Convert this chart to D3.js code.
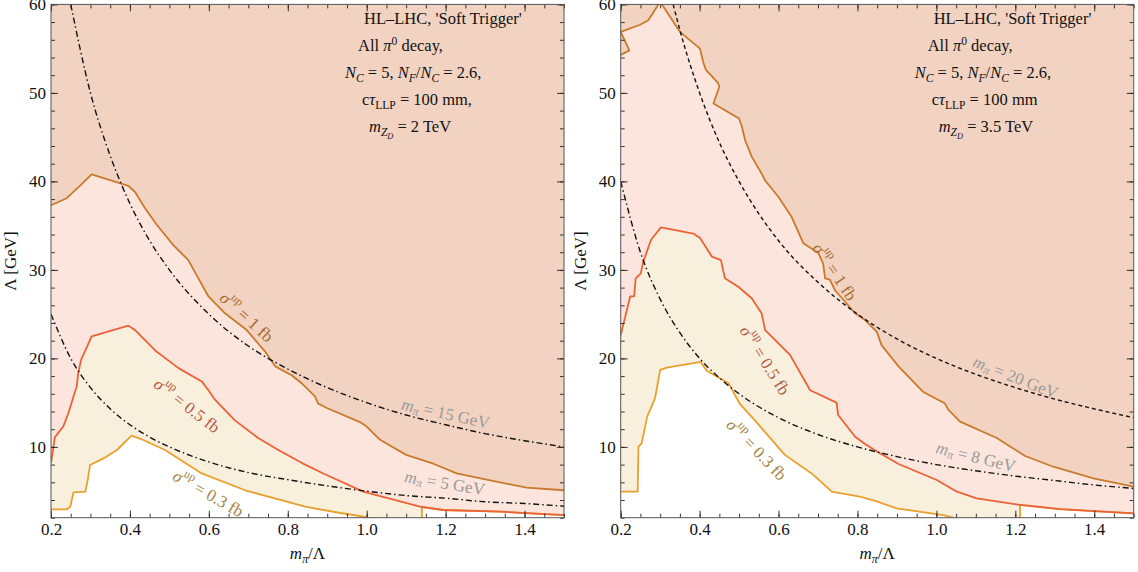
<!DOCTYPE html>
<html>
<head>
<meta charset="utf-8">
<script src="https://cdnjs.cloudflare.com/ajax/libs/d3/7.8.5/d3.min.js"></script>
<style>
body{margin:0;background:#fff;}
svg{display:block;font-family:"Liberation Serif","Times New Roman",serif;}
</style>
</head>
<body>
<svg id="chart" width="1138" height="572"></svg>
<script>
// ---- data ----
const xMajor = [0.2, 0.4, 0.6, 0.8, 1.0, 1.2, 1.4];
const yMajor = [10, 20, 30, 40, 50, 60];

// left panel, m_ZD = 2 TeV : contours [m_pi/Lambda, Lambda]
const sig1L = [[0.2,37.3],[0.24,38.1],[0.273,39.5],[0.303,40.8],[0.396,39.5],[0.413,38.8],[0.438,37.0],[0.468,35.1],[0.51,32.8],[0.548,31.1],[0.599,27.0],[0.641,25.1],[0.696,23.2],[0.742,20.8],[0.768,19.1],[0.81,18.1],[0.835,17.2],[0.869,15.7],[0.877,14.9],[0.899,14.4],[0.983,12.8],[1.0,12.3],[1.034,10.8],[1.10,9.1],[1.169,8.1],[1.228,7.0],[1.304,6.3],[1.405,5.4],[1.5,5.1]];
const sig05L = [[0.2,8.2],[0.21,11.1],[0.231,12.3],[0.244,13.8],[0.257,15.7],[0.265,16.8],[0.269,18.3],[0.276,19.8],[0.303,22.5],[0.396,23.7],[0.413,23.2],[0.464,20.9],[0.523,18.9],[0.582,17.4],[0.599,16.4],[0.616,15.3],[0.666,13.0],[0.725,11.0],[0.776,9.65],[0.835,8.2],[0.89,7.0],[0.991,4.94],[1.135,3.25],[1.194,2.87],[1.338,2.68],[1.5,2.3]];
const sig03L = [[0.2,2.95],[0.24,2.95],[0.249,3.24],[0.257,4.87],[0.287,4.94],[0.293,6.26],[0.299,7.95],[0.333,8.7],[0.367,9.65],[0.404,11.27],[0.43,10.86],[0.489,9.65],[0.582,7.0],[0.692,5.1],[0.844,3.24],[0.93,2.56],[1.0,2.05],[1.02,1.8],[1.14,1.8],[1.14,3.2],[1.194,2.87],[1.338,2.68],[1.5,2.3]];
const iso15L = [[0.25,60],[0.3,50],[0.35,42.9],[0.4,37.5],[0.45,33.3],[0.5,30],[0.6,25],[0.7,21.4],[0.8,18.8],[0.9,16.7],[1.0,15],[1.1,13.6],[1.2,12.5],[1.3,11.5],[1.4,10.7],[1.5,10]];
const iso5L = [[0.2,25],[0.25,20],[0.3,16.7],[0.35,14.3],[0.4,12.5],[0.45,11.1],[0.5,10],[0.6,8.3],[0.7,7.1],[0.8,6.3],[0.9,5.6],[1.0,5],[1.1,4.5],[1.2,4.2],[1.3,3.8],[1.4,3.6],[1.5,3.3]];

// right panel, m_ZD = 3.5 TeV
const sig1R = [[0.2,54.3],[0.222,54.8],[0.2,56.9],[0.249,57.7],[0.27,58.2],[0.30,60.3],[0.35,56.9],[0.401,55.0],[0.409,53.5],[0.416,52.6],[0.447,51.1],[0.45,50.7],[0.435,48.8],[0.50,47.1],[0.507,46.2],[0.515,44.7],[0.532,42.8],[0.557,40.9],[0.566,40.1],[0.599,38.3],[0.633,36.0],[0.663,33.0],[0.701,31.9],[0.713,30.7],[0.718,29.05],[0.73,28.9],[0.743,27.7],[0.794,25.1],[0.82,24.3],[0.849,23.0],[0.861,21.5],[0.904,19.1],[0.967,16.2],[1.022,14.9],[1.03,14.2],[1.06,12.85],[1.153,11.0],[1.225,8.97],[1.296,7.76],[1.398,6.45],[1.5,5.5]];
const sig05R = [[0.2,22.6],[0.224,27.0],[0.234,27.0],[0.238,29.05],[0.251,29.6],[0.257,30.9],[0.277,33.4],[0.302,34.8],[0.384,34.1],[0.401,33.6],[0.431,31.5],[0.454,31.1],[0.464,29.05],[0.498,28.1],[0.532,26.8],[0.557,25.1],[0.566,23.2],[0.629,20.4],[0.68,16.4],[0.747,15.0],[0.751,13.6],[0.794,11.15],[0.82,10.3],[0.857,9.28],[0.904,8.07],[1.001,6.26],[1.052,4.94],[1.102,4.19],[1.212,3.44],[1.313,2.98],[1.5,2.5]];
const sig03R = [[0.2,4.94],[0.243,4.94],[0.245,10.0],[0.253,10.4],[0.267,13.4],[0.287,15.5],[0.30,18.7],[0.317,18.95],[0.403,19.6],[0.418,18.6],[0.473,17.2],[0.502,14.85],[0.54,13.0],[0.616,9.1],[0.684,7.0],[0.735,4.94],[0.806,4.37],[0.845,3.9],[0.899,3.06],[1.018,2.3],[1.06,1.8],[1.212,1.8],[1.212,3.44],[1.313,2.98],[1.5,2.5]];
const iso20R = [[0.333,60],[0.35,57.1],[0.4,50],[0.45,44.4],[0.5,40],[0.6,33.3],[0.7,28.6],[0.8,25],[0.9,22.2],[1.0,20],[1.1,18.2],[1.2,16.7],[1.3,15.4],[1.4,14.3],[1.5,13.3]];
const iso8R = [[0.2,40],[0.25,32],[0.3,26.7],[0.35,22.9],[0.4,20],[0.45,17.8],[0.5,16],[0.6,13.3],[0.7,11.4],[0.8,10],[0.9,8.9],[1.0,8],[1.1,7.3],[1.2,6.7],[1.3,6.2],[1.4,5.7],[1.5,5.3]];

const textL = ["HL\u2013LHC, 'Soft Trigger'", "All \u03c0^0 decay,", "N_C = 5, N_F/N_C = 2.6,", "c\u03c4_LLP = 100 mm,", "m_ZD = 2 TeV"];
const textR = ["HL\u2013LHC, 'Soft Trigger'", "All \u03c0^0 decay,", "N_C = 5, N_F/N_C = 2.6,", "c\u03c4_LLP = 100 mm", "m_ZD = 3.5 TeV"];

// ---- styles ----
const cDark = "#f2d3c2", cPink = "#fbe5dd", cYel = "#f9efdd";
const c1 = "#c97a2c", c05 = "#ec6238", c03 = "#e8a12e";
const l1 = "#a8692e", l05 = "#b35a45", l03 = "#a5843f", lIso = "#9a9a9a";

const svg = d3.select("#chart");
const yTop = 4.4, yBot = 517.7;

// rich text: parts = [text, italic?, shift('sub','sub2','sup'), size factor]
function rich(sel, parts, fs) {
  let cur = 0;
  parts.forEach(p => {
    const shift = p[2] === "sub" ? fs * 0.25 : p[2] === "sub2" ? fs * 0.42 : p[2] === "sup" ? -fs * 0.38 : 0;
    sel.append("tspan")
      .attr("dy", shift - cur)
      .attr("font-style", p[1] ? "italic" : "normal")
      .attr("font-size", fs * (p[3] || 1))
      .text(p[0]);
    cur = shift;
  });
}

const sigParts = v => [["\u03c3", 1], ["up", 0, "sup", 0.7], [" = " + v + " fb", 0]];
const mParts = v => [["m", 1], ["\u03c0", 1, "sub", 0.7], [" = " + v + " GeV", 0]];

function annoParts(i, s) {
  if (i === 0) return [[s, 0]];
  if (i === 1) return [["All ", 0], ["\u03c0", 1], ["0", 0, "sup", 0.7], [" decay,", 0]];
  if (i === 2) return [["N", 1], ["C", 1, "sub", 0.7], [" = 5, ", 0], ["N", 1], ["F", 1, "sub", 0.7], ["/", 0], ["N", 1], ["C", 1, "sub", 0.7], [" = 2.6,", 0]];
  if (i === 3) return [["c", 0], ["\u03c4", 1], ["LLP", 0, "sub", 0.7], [" =" + s.split("=")[1], 0]];
  return [["m", 1], ["Z", 1, "sub", 0.7], ["D", 1, "sub2", 0.5], [" =" + s.split("=")[1], 0]];
}

function panel(id, x0, x1, d) {
  const x = d3.scaleLinear().domain([0.2, 1.5]).range([x0, x1]);
  const y = d3.scaleLinear().domain([2, 60]).range([yBot, yTop]);
  const g = svg.append("g");
  g.append("clipPath").attr("id", "clip" + id).append("rect")
    .attr("x", x0).attr("y", yTop).attr("width", x1 - x0).attr("height", yBot - yTop);
  const pg = g.append("g").attr("clip-path", "url(#clip" + id + ")");
  const line = d3.line().x(p => x(p[0])).y(p => y(p[1]));
  const smooth = d3.line().x(p => x(p[0])).y(p => y(p[1])).curve(d3.curveMonotoneX);
  const corners = [[1.5, 1.5], [0.2, 1.5]];

  pg.append("rect").attr("x", x0).attr("y", yTop).attr("width", x1 - x0).attr("height", yBot - yTop).attr("fill", cDark);
  [[d.s1, cPink], [d.s05, cYel], [d.s03, "#fff"]].forEach(([pts, col]) => {
    pg.append("path").attr("d", line(pts.concat(corners)) + "Z").attr("fill", col);
  });
  [[d.s03, c03], [d.s05, c05], [d.s1, c1]].forEach(([pts, col]) => {
    pg.append("path").attr("d", line(pts)).attr("fill", "none").attr("stroke", col)
      .attr("stroke-width", 1.8).attr("stroke-linejoin", "round");
  });
  d.iso.forEach(it => {
    pg.append("path").attr("d", smooth(it.pts)).attr("fill", "none").attr("stroke", "#111")
      .attr("stroke-width", 1.4).attr("stroke-dasharray", it.dash);
  });

  // curve labels
  d.labels.forEach(lb => {
    const t = pg.append("text")
      .attr("transform", `translate(${x(lb.at[0])},${y(lb.at[1])}) rotate(${lb.rot})`)
      .attr("text-anchor", "middle").attr("dominant-baseline", "central")
      .attr("fill", lb.col);
    rich(t, lb.parts, 17);
  });

  // annotation block
  d.text.forEach((s, i) => {
    const t = g.append("text").attr("x", x0 + d.textX[i]).attr("y", 24 + i * 27).attr("fill", "#111");
    rich(t, annoParts(i, s), 16.5);
  });

  // ticks
  const axes = g.append("g");
  const minorX = d3.range(0.2, 1.5001, 0.05), minorY = d3.range(2, 60.001, 2);
  const mk = (axis, tr) => axes.append("g").attr("transform", tr).call(axis)
    .call(s => s.select(".domain").remove())
    .call(s => s.selectAll("line").attr("stroke", "#222").attr("stroke-width", 0.9))
    .call(s => s.selectAll("text").attr("fill", "#111").attr("font-family", "Liberation Serif").attr("font-size", 17));
  mk(d3.axisBottom(x).tickValues(xMajor).tickSize(-7).tickPadding(5).tickFormat(d3.format(".1f")), `translate(0,${yBot})`);
  mk(d3.axisBottom(x).tickValues(minorX).tickSize(-4).tickFormat(""), `translate(0,${yBot})`);
  mk(d3.axisTop(x).tickValues(xMajor).tickSize(-7).tickFormat(""), `translate(0,${yTop})`);
  mk(d3.axisTop(x).tickValues(minorX).tickSize(-4).tickFormat(""), `translate(0,${yTop})`);
  mk(d3.axisLeft(y).tickValues(yMajor).tickSize(-7).tickPadding(5).tickFormat(d3.format("d")), `translate(${x0},0)`);
  mk(d3.axisLeft(y).tickValues(minorY).tickSize(-4).tickFormat(""), `translate(${x0},0)`);
  mk(d3.axisRight(y).tickValues(yMajor).tickSize(-7).tickFormat(""), `translate(${x1},0)`);
  mk(d3.axisRight(y).tickValues(minorY).tickSize(-4).tickFormat(""), `translate(${x1},0)`);

  g.append("rect").attr("x", x0).attr("y", yTop).attr("width", x1 - x0).attr("height", yBot - yTop)
    .attr("fill", "none").attr("stroke", "#555").attr("stroke-width", 1);

  // axis titles
  const xt = g.append("text").attr("x", (x0 + x1) / 2).attr("y", 559).attr("text-anchor", "middle").attr("fill", "#111");
  rich(xt, [["m", 1], ["\u03c0", 1, "sub", 0.7], ["/\u039b", 0]], 17);
  g.append("text").attr("transform", `translate(${x0 - 35},${(yTop + yBot) / 2}) rotate(-90)`)
    .attr("text-anchor", "middle").attr("fill", "#111").attr("font-size", 17).text("\u039b [GeV]");
}

panel("L", 51, 564, {
  s1: sig1L, s05: sig05L, s03: sig03L,
  iso: [{pts: iso15L, dash: "6,3,1.5,3"}, {pts: iso5L, dash: "6,3,1.5,3"}],
  text: textL, textX: [313, 307, 294, 311, 318],
  labels: [
    {at: [0.696, 24.7], rot: 42, col: l1, parts: sigParts("1")},
    {at: [0.545, 14.7], rot: 37.6, col: l05, parts: sigParts("0.5")},
    {at: [0.599, 4.76], rot: 29.6, col: l03, parts: sigParts("0.3")},
    {at: [1.2, 13.8], rot: 12.3, col: lIso, parts: mParts("15")},
    {at: [1.198, 5.95], rot: 9.5, col: lIso, parts: mParts("5")}
  ]
});

panel("R", 620.7, 1133.7, {
  s1: sig1R, s05: sig05R, s03: sig03R,
  iso: [{pts: iso20R, dash: "4,3"}, {pts: iso8R, dash: "6,3,1.5,3"}],
  text: textR, textX: [313, 307, 294, 311, 318],
  labels: [
    {at: [0.743, 29.8], rot: 56, col: l1, parts: sigParts("1")},
    {at: [0.566, 19.8], rot: 57.5, col: l05, parts: sigParts("0.5")},
    {at: [0.545, 9.7], rot: 45.8, col: l03, parts: sigParts("0.3")},
    {at: [1.201, 17.9], rot: 21.6, col: lIso, parts: mParts("20")},
    {at: [1.1, 8.9], rot: 13.8, col: lIso, parts: mParts("8")}
  ]
});
</script>
</body>
</html>
